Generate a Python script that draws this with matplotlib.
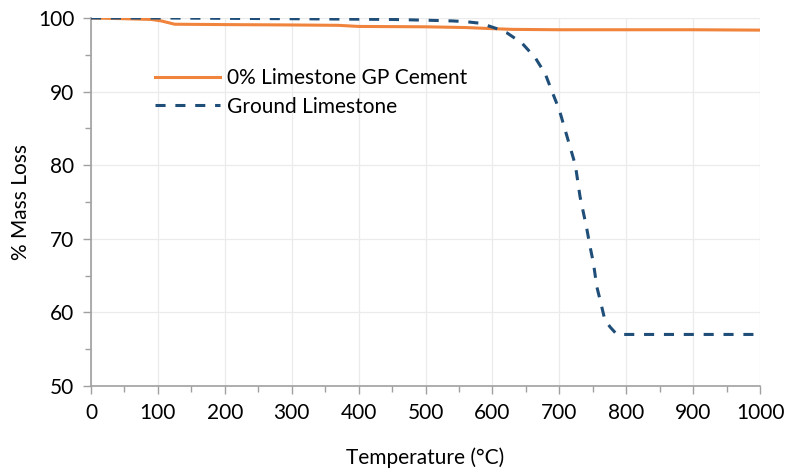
import matplotlib
matplotlib.use("Agg")
import matplotlib.pyplot as plt
from matplotlib.ticker import MultipleLocator

plt.rcParams['font.family'] = ['Lato', 'DejaVu Sans']

# Data
gp_temp = [0, 50, 90, 105, 125, 200, 300, 370, 400, 500, 560, 600, 630, 700, 800, 900, 1000]
gp_mass = [100.0, 99.9, 99.8, 99.6, 99.15, 99.1, 99.05, 99.0, 98.85, 98.8, 98.7, 98.55, 98.45, 98.4, 98.4, 98.4, 98.35]

ls_temp = [0, 100, 300, 450, 500, 540, 560, 580, 590, 605, 622, 644, 664, 679, 690, 700, 716, 724,
           731, 741, 746, 751, 756, 762, 768, 776, 786, 800, 900, 1000]
ls_mass = [100.0, 100.0, 99.9, 99.8, 99.7, 99.6, 99.5, 99.3, 99.05, 98.6, 97.96, 96.6, 94.6, 92.4, 89.8, 87.5, 82.5, 80.0,
           75.7, 71.4, 68.9, 66.7, 63.5, 61.3, 59.0, 58.0, 57.0, 57.0, 57.0, 57.0]

series_labels = ["0% Limestone GP Cement", "Ground Limestone"]

fig = plt.figure(figsize=(7.88, 4.73), dpi=100)
ax = fig.add_axes([0.1155, 0.184, 0.849, 0.778])

ax.plot(gp_temp, gp_mass, color='#F0843C', lw=2.2, label=series_labels[0], zorder=3)
ax.plot(ls_temp, ls_mass, color='#1F4E79', lw=2.2, ls=(0, (3.3, 3.2)), label=series_labels[1], zorder=3)

ax.set_xlim(0, 1000)
ax.set_ylim(50, 100)
ax.xaxis.set_major_locator(MultipleLocator(100))
ax.xaxis.set_minor_locator(MultipleLocator(50))
ax.yaxis.set_major_locator(MultipleLocator(10))
ax.yaxis.set_minor_locator(MultipleLocator(5))

ax.grid(True, which='major', color='#EBEBEB', lw=0.9, zorder=0)
ax.set_axisbelow(True)
for s in ['top', 'right']:
    ax.spines[s].set_visible(False)
for s in ['left', 'bottom']:
    ax.spines[s].set_color('#A0A0A0')
    ax.spines[s].set_linewidth(1.2)

ax.tick_params(which='both', direction='out', color='#A0A0A0', width=1.0)
ax.tick_params(which='major', length=6, labelsize=15, pad=6)
ax.tick_params(which='minor', length=4)

ax.set_xlabel('Temperature (°C)', fontsize=15, labelpad=18)
ax.set_ylabel('% Mass Loss', fontsize=15, labelpad=5)

leg = ax.legend(loc='upper left', bbox_to_anchor=(0.068, 0.915), frameon=False,
                fontsize=15, handlelength=3.1, handletextpad=0.35, labelspacing=0.42)

fig.savefig('out.png', dpi=100)
